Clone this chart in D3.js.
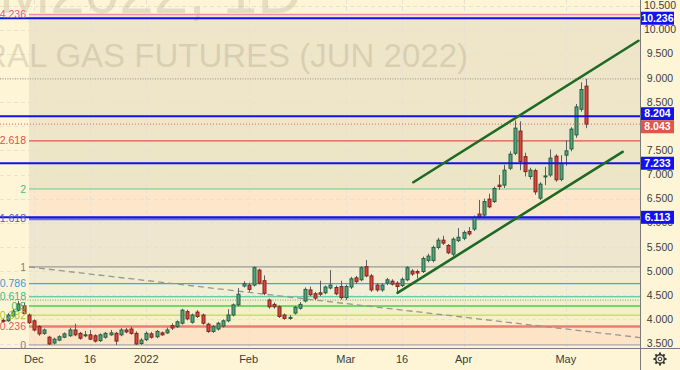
<!DOCTYPE html>
<html><head><meta charset="utf-8">
<script src="https://cdn.jsdelivr.net/npm/d3@7/dist/d3.min.js"></script>
<style>
html,body{margin:0;padding:0;background:#fef5d7;}
svg{display:block;font-family:"Liberation Sans",Arial,sans-serif;}
</style>
</head><body>
<svg id="chart" width="680" height="370"></svg>
<script>
// ---------------- DATA ----------------
const dateStart = "2021-11-22";
const dateEnd = "2022-05-06";
const holidays = ["2021-11-25","2021-12-24","2022-01-17","2022-02-21","2022-04-15"];

const opens  = [3.98,3.97,4.07,4.19,4.28,4.09,3.97,3.85,3.71,3.63,3.51,3.57,3.63,3.66,3.78,3.71,3.66,3.68,3.66,3.56,
                3.63,3.68,3.71,3.68,3.78,3.80,3.71,3.50,3.58,3.70,3.64,3.72,3.72,3.87,3.85,3.92,4.16,3.94,4.15,4.09,
                3.90,3.75,3.80,3.86,3.97,4.09,4.30,4.69,4.71,4.71,5.02,4.80,4.40,4.31,4.26,4.09,4.03,4.13,4.23,4.38,
                4.61,4.53,4.55,4.55,4.65,4.66,4.68,4.45,4.67,4.86,4.82,5.09,4.90,4.71,4.61,4.75,4.79,4.75,4.70,4.82,
                5.00,4.99,4.99,5.22,5.22,5.49,5.64,5.53,5.35,5.63,5.68,5.82,5.87,6.18,6.16,6.49,6.44,6.78,6.78,7.13,
                7.44,7.90,7.37,6.96,7.08,6.51,6.96,6.99,7.38,6.90,7.40,7.53,7.82,8.35,8.83];
const highs  = [4.02,4.13,4.21,4.38,4.34,4.12,4.00,3.88,3.81,3.66,3.62,3.67,3.73,3.83,3.91,3.74,3.76,3.78,3.69,3.71,
                3.74,3.78,3.74,3.82,3.82,3.85,3.75,3.61,3.75,3.74,3.78,3.75,3.83,3.92,3.98,4.22,4.20,4.12,4.19,4.12,
                3.93,3.88,3.95,4.00,4.21,4.33,4.65,4.79,4.76,5.10,5.05,4.91,4.43,4.35,4.29,4.12,4.09,4.28,4.36,4.66,
                4.68,4.57,4.80,4.70,5.02,4.70,4.80,4.72,4.88,4.90,5.10,5.23,4.94,4.75,4.75,4.86,4.83,4.79,4.87,5.10,
                5.04,5.03,5.30,5.36,5.53,5.69,5.73,5.56,5.70,5.89,5.84,5.91,6.15,6.47,6.50,6.60,6.75,6.99,7.20,7.48,
                8.12,8.10,7.45,7.14,7.12,6.84,7.16,7.52,7.42,7.40,7.71,7.98,8.46,8.91,8.98];
const lows   = [3.94,3.95,4.04,4.16,4.10,3.90,3.75,3.66,3.68,3.47,3.48,3.55,3.61,3.64,3.65,3.58,3.63,3.57,3.52,3.53,
                3.60,3.66,3.47,3.65,3.71,3.68,3.47,3.47,3.55,3.60,3.61,3.66,3.70,3.78,3.82,3.89,3.98,3.91,4.03,3.89,
                3.72,3.72,3.77,3.83,3.94,4.06,4.27,4.66,4.57,4.68,4.72,4.50,4.22,4.22,4.03,3.99,3.99,4.10,4.20,4.35,
                4.48,4.40,4.48,4.52,4.62,4.50,4.41,4.40,4.63,4.74,4.79,4.87,4.57,4.57,4.57,4.71,4.70,4.57,4.67,4.79,
                4.90,4.85,4.96,5.18,5.18,5.45,5.54,5.35,5.31,5.60,5.64,5.73,5.83,6.08,6.12,6.30,6.41,6.68,6.72,7.09,
                7.40,7.09,6.96,6.90,6.58,6.47,6.78,6.95,6.85,6.86,7.18,7.48,7.76,8.30,7.96];
const closes = [3.97,4.09,4.17,4.32,4.12,3.93,3.78,3.70,3.78,3.49,3.59,3.64,3.70,3.78,3.68,3.61,3.68,3.59,3.55,3.68,
                3.71,3.72,3.55,3.78,3.74,3.71,3.49,3.57,3.71,3.63,3.75,3.68,3.78,3.82,3.95,4.19,4.01,4.09,4.06,3.92,
                3.75,3.85,3.92,3.97,4.09,4.30,4.52,4.74,4.62,5.07,4.75,4.54,4.26,4.26,4.06,4.02,4.04,4.25,4.31,4.62,
                4.51,4.44,4.52,4.67,4.71,4.53,4.45,4.68,4.84,4.78,5.07,4.90,4.61,4.61,4.71,4.82,4.73,4.68,4.83,5.07,
                4.94,4.96,5.26,5.31,5.49,5.64,5.58,5.38,5.66,5.70,5.80,5.77,6.11,6.12,6.44,6.33,6.71,6.75,7.09,7.42,
                7.96,7.27,7.06,7.09,6.64,6.80,6.97,7.34,6.89,7.23,7.49,7.94,8.40,8.76,8.043];

const priceTicks = [3.5,4,4.5,5,5.5,6,6.5,7,7.5,8,8.5,9,9.5,10,10.5];
const timeTickDates  = ["2021-12-01","2021-12-16","2022-01-03","2022-02-01","2022-03-01","2022-03-16","2022-04-01","2022-05-02"];
const timeTickLabels = ["Dec","16","2022","Feb","Mar","16","Apr","May"];

const fibLevels = [0,0.236,0.382,0.5,0.618,0.786,1,1.618,2,2.618,4.236];
const fibLabels = ["0","0.236","0.382","0.5","0.618","0.786","1","1.618","2","2.618","4.236"];
const fibPriceAt0 = 3.47, fibPriceAt1 = 5.085;
const fibStartBar = 5.07, fibEndBar = 137;

const keyLevels = [10.236, 8.204, 7.233, 6.113];
const lastPrice = 8.043;
const markerLevels = [8.98, 4.40];
const channelUpper = [[80.2, 6.84],[124.2, 9.77]];
const channelLower = [[77.1, 4.55],[121.1, 7.47]];
const titleText = "NGM2022, 1D";
const subtitleText = "NATURAL GAS FUTURES (JUN 2022)";

// ---------------- STYLE ----------------
const fibLineColors  = ["#9a9a9a","#e8806c","#b7d24c","#4ccc4c","#33c2a0","#4aa2dc","#9a9a9a","#6f6fdc","#66cc99","#d9574c","#f08cb4"];
const fibLabelColors = ["#808080","#e05a5a","#a6c63a","#44c044","#2dbd8f","#3a9ad9","#808080","#5555d0","#3cc48a","#e05050","#e056a0"];
const fibLineWidths  = [1,2.5,1,1.5,1,1.2,1.2,3,1,1.2,1.5];
const fibZoneColors  = ["#fde4c6","#f8efcb","#f1f0c7","#eef1cc","#f1f0d7","#f1ebd2","#efe6d0","#fde6c9","#ece6c6","#efe5c9"];

// ---------------- SETUP ----------------
const W = 680, H = 370, paneW = 640, paneH = 348;
const parse = d3.timeParse("%Y-%m-%d"), fmt = d3.timeFormat("%Y-%m-%d");
const dates = d3.timeDay.range(parse(dateStart), d3.timeDay.offset(parse(dateEnd), 1))
  .filter(d => d.getDay() % 6 !== 0 && !holidays.includes(fmt(d)));
const bars = dates.map((d, i) => ({i, key: fmt(d), o: opens[i], h: highs[i], l: lows[i], c: closes[i]}));
const idxOf = k => dates.findIndex(d => fmt(d) === k);

const x = d3.scaleLinear().domain([-0.6, 124.5]).range([0, paneW]);
const y = d3.scaleLinear().domain([3.5, 10.5]).range([343.5, 5.5]);
const fibPrice = lv => fibPriceAt0 + lv * (fibPriceAt1 - fibPriceAt0);

const svg = d3.select("#chart");
svg.append("rect").attr("width", W).attr("height", H).attr("fill", "#fef5d7");
svg.append("clipPath").attr("id", "pane").append("rect").attr("width", paneW).attr("height", paneH);
const pane = svg.append("g").attr("clip-path", "url(#pane)");

// fib zones
const xf0 = x(fibStartBar);
for (let k = 0; k < fibLevels.length - 1; k++) {
  const yTop = y(fibPrice(fibLevels[k+1])), yBot = y(fibPrice(fibLevels[k]));
  pane.append("rect").attr("x", xf0).attr("y", yTop).attr("width", paneW - xf0).attr("height", yBot - yTop)
    .attr("fill", fibZoneColors[k]);
}

// grid
pane.append("g").selectAll("line").data(priceTicks).join("line")
  .attr("x1", 0).attr("x2", paneW).attr("y1", d => Math.round(y(d)) + 0.5).attr("y2", d => Math.round(y(d)) + 0.5)
  .attr("stroke", "#e6e1d2").attr("stroke-dasharray", "4,3");
pane.append("g").selectAll("line").data(timeTickDates).join("line")
  .attr("x1", d => Math.round(x(idxOf(d))) + 0.5).attr("x2", d => Math.round(x(idxOf(d))) + 0.5)
  .attr("y1", 0).attr("y2", paneH)
  .attr("stroke", "#e6e1d2").attr("stroke-dasharray", "4,3");

// watermark
pane.append("text").attr("x", 302).attr("y", 13).attr("text-anchor", "end")
  .attr("font-size", 62).attr("fill", "rgba(150,138,105,0.22)").text(titleText);
pane.append("text").attr("x", 468).attr("y", 67).attr("text-anchor", "end")
  .attr("font-size", 33).attr("fill", "rgba(150,138,105,0.25)").text(subtitleText);

// fib lines
fibLevels.forEach((lv, k) => {
  const yy = y(fibPrice(lv));
  pane.append("line").attr("x1", xf0).attr("x2", paneW).attr("y1", yy).attr("y2", yy)
    .attr("stroke", fibLineColors[k]).attr("stroke-width", fibLineWidths[k]);
});

// fib trend line (dashed diagonal)
pane.append("line")
  .attr("x1", x(fibStartBar)).attr("y1", y(fibPriceAt1))
  .attr("x2", x(fibEndBar)).attr("y2", y(fibPriceAt0))
  .attr("stroke", "#9a968c").attr("stroke-width", 1.3).attr("stroke-dasharray", "6,4");

// marker dotted lines
pane.append("g").selectAll("line").data(markerLevels).join("line")
  .attr("x1", 0).attr("x2", paneW).attr("y1", d => y(d)).attr("y2", d => y(d))
  .attr("stroke", "#aaa596").attr("stroke-width", 1.2).attr("stroke-dasharray", "1,1.5");

// candles
const up = d => d.c >= d.o;
const cg = pane.append("g");
cg.selectAll("line").data(bars).join("line")
  .attr("x1", d => Math.round(x(d.i)) + 0.5).attr("x2", d => Math.round(x(d.i)) + 0.5)
  .attr("y1", d => y(d.h)).attr("y2", d => y(d.l))
  .attr("stroke", "#5b5e66").attr("stroke-width", 1);
cg.selectAll("rect").data(bars).join("rect")
  .attr("x", d => Math.round(x(d.i)) - 1)
  .attr("y", d => y(Math.max(d.o, d.c)))
  .attr("width", 3)
  .attr("height", d => Math.max(1, Math.abs(y(d.o) - y(d.c))))
  .attr("fill", d => up(d) ? "#55a380" : "#d9463c")
  .attr("stroke", d => up(d) ? "#24603f" : "#7e251c").attr("stroke-width", 1);

// last price dotted line
pane.append("line").attr("x1", 0).attr("x2", paneW).attr("y1", y(lastPrice)).attr("y2", y(lastPrice))
  .attr("stroke", "#e4685a").attr("stroke-width", 1).attr("stroke-dasharray", "1,2");

// key horizontal levels
pane.append("g").selectAll("line").data(keyLevels).join("line")
  .attr("x1", 0).attr("x2", paneW).attr("y1", d => y(d)).attr("y2", d => y(d))
  .attr("stroke", "#1212e6").attr("stroke-width", 2);

// channel
[channelUpper, channelLower].forEach(pts => {
  pane.append("line")
    .attr("x1", x(pts[0][0])).attr("y1", y(pts[0][1]))
    .attr("x2", x(pts[1][0])).attr("y2", y(pts[1][1]))
    .attr("stroke", "#1d6a25").attr("stroke-width", 2.6).attr("stroke-linecap", "round");
});

// fib labels (left)
fibLevels.forEach((lv, k) => {
  pane.append("text").attr("x", 26).attr("y", y(fibPrice(lv))).attr("dy", "0.35em")
    .attr("text-anchor", "end").attr("font-size", 10.5).attr("fill", fibLabelColors[k]).text(fibLabels[k]);
});

// ---------------- AXES ----------------
const yAxisG = svg.append("g").attr("transform", `translate(${paneW},0)`);
const visibleTicks = priceTicks.filter(t => Math.abs(y(t) - y(lastPrice)) > 5);
yAxisG.selectAll("text").data(visibleTicks).join("text")
  .attr("x", 20).attr("y", d => y(d)).attr("dy", "0.35em").attr("text-anchor", "middle")
  .attr("font-size", 10.5).attr("fill", "#3c3c3c").text(d3.format(".3f"));

// level boxes with simple collision avoidance
const boxH = 13;
const boxes = keyLevels.map(v => ({v, color: "#1212f0"})).concat([{v: lastPrice, color: "#e0574a"}])
  .map(b => ({...b, cy: y(b.v)})).sort((a, b) => a.cy - b.cy);
for (let k = 1; k < boxes.length; k++) {
  const gap = boxes[k].cy - boxes[k-1].cy;
  if (gap < boxH) {
    const push = (boxH - gap) / 2;
    boxes[k-1].cy -= push; boxes[k].cy += push;
  }
}
boxes.forEach(b => {
  const g = yAxisG.append("g").attr("transform", `translate(0,${b.cy})`);
  g.append("rect").attr("x", 1).attr("y", -boxH / 2).attr("width", 33).attr("height", boxH).attr("fill", b.color);
  g.append("text").attr("x", 17.5).attr("dy", "0.35em").attr("text-anchor", "middle")
    .attr("font-size", 10.5).attr("font-weight", "bold").attr("fill", "#ffffff").text(d3.format(".3f")(b.v));
});

svg.append("line").attr("x1", paneW + 0.5).attr("x2", paneW + 0.5).attr("y1", 0).attr("y2", H)
  .attr("stroke", "#7a7a7a");
svg.append("line").attr("x1", 0).attr("x2", W).attr("y1", paneH + 0.5).attr("y2", paneH + 0.5)
  .attr("stroke", "#7a7a7a");

// time axis labels
svg.append("g").selectAll("text").data(timeTickDates).join("text")
  .attr("x", d => x(idxOf(d))).attr("y", 363).attr("text-anchor", "middle")
  .attr("font-size", 11).attr("fill", "#3c3c3c").text((d, i) => timeTickLabels[i]);

// gear icon
const gear = svg.append("g").attr("transform", "translate(660,359)");
d3.range(8).forEach(k => {
  const a = k * Math.PI / 4;
  gear.append("line").attr("x1", 4 * Math.cos(a)).attr("y1", 4 * Math.sin(a))
    .attr("x2", 6.5 * Math.cos(a)).attr("y2", 6.5 * Math.sin(a))
    .attr("stroke", "#333").attr("stroke-width", 2);
});
gear.append("circle").attr("r", 4.3).attr("fill", "#fef5d7").attr("stroke", "#333").attr("stroke-width", 1.4);
gear.append("circle").attr("r", 1.8).attr("fill", "none").attr("stroke", "#333").attr("stroke-width", 1);
</script>
</body></html>
